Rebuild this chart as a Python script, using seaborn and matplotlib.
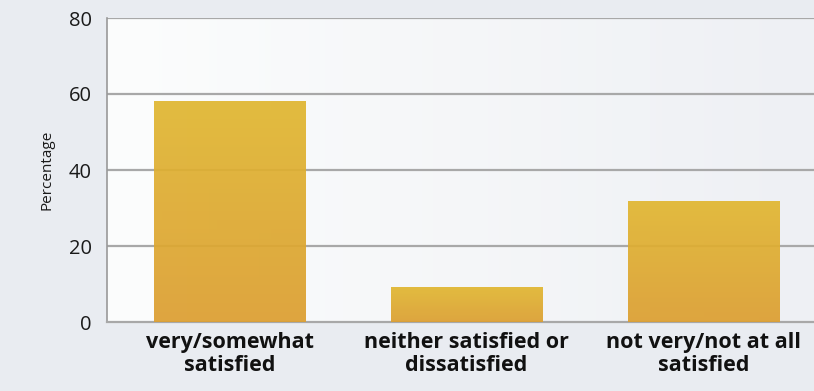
import numpy as np
import pandas as pd
import matplotlib
matplotlib.use("Agg")
import matplotlib.pyplot as plt
from matplotlib.colors import LinearSegmentedColormap
import seaborn as sns

categories = ["very/somewhat\nsatisfied", "neither satisfied or\ndissatisfied", "not very/not at all\nsatisfied"]
values = [58.2, 9.2, 31.8]
y_ticks = [0, 20, 40, 60, 80]

df = pd.DataFrame({"category": categories, "value": values})

sns.set_theme(style="white")
plt.rcParams["font.family"] = ["Open Sans", "DejaVu Sans"]

fig = plt.figure(figsize=(8.14, 3.91), dpi=100)
fig.patch.set_facecolor("#e9ecf1")
W, H = 814, 391
ax = fig.add_axes([107 / W, 1 - 322 / H, (814 - 107) / W, (322 - 18) / H])
ax.set_facecolor("none")

# soft horizontal gradient for the plotting area
bg_cmap = LinearSegmentedColormap.from_list("bg", ["#fcfdfd", "#eef0f4"])
ax.imshow(np.linspace(0, 1, 256)[None, :], cmap=bg_cmap, aspect="auto",
          extent=(-0.517, 2.466, 0, 80), zorder=0)

for t in y_ticks[1:]:
    ax.axhline(t, color="#a8a8a8", lw=1.6, zorder=1)

sns.barplot(data=df, x="category", y="value", width=0.64, color="#dfab30",
            ax=ax, zorder=2, saturation=1)

# vertical golden gradient on each bar
bar_cmap = LinearSegmentedColormap.from_list("bar", ["#dc9f31", "#e1b732"])
for p in ax.patches:
    x0, y0 = p.get_x(), p.get_y()
    w, h = p.get_width(), p.get_height()
    im = ax.imshow(np.linspace(0, 1, 256)[:, None], cmap=bar_cmap, aspect="auto",
                   origin="lower", extent=(x0, x0 + w, y0, y0 + h), zorder=3, alpha=0.93)
    im.set_clip_path(p)
    p.set_alpha(0)

ax.set_xlim(-0.517, 2.466)
ax.set_ylim(0, 80)
ax.set_yticks(y_ticks)
ax.set_yticklabels([str(t) for t in y_ticks], fontsize=14.5, color="#1a1a1a")
ax.tick_params(axis="y", length=0, pad=11)
ax.tick_params(axis="x", length=0, pad=7)
for lab in ax.get_xticklabels():
    lab.set_fontweight("bold")
    lab.set_fontsize(15.5)
    lab.set_color("#111111")
    lab.set_linespacing(1.12)
ax.set_xlabel("")
ax.set_ylabel("Percentage", fontsize=11, color="#1a1a1a", labelpad=10)

for side in ["top", "right"]:
    ax.spines[side].set_visible(False)
ax.spines["left"].set_color("#999999")
ax.spines["left"].set_linewidth(1.2)
ax.spines["bottom"].set_color("#a8a8a8")
ax.spines["bottom"].set_linewidth(1.6)

fig.savefig("out.png", dpi=100, facecolor=fig.get_facecolor())
